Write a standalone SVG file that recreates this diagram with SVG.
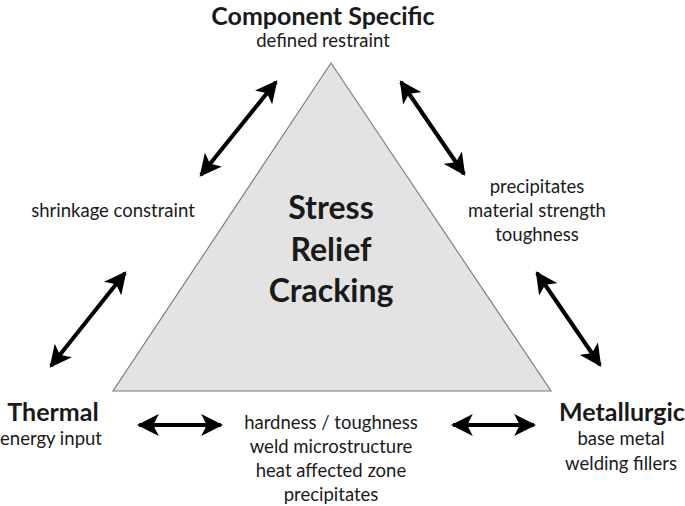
<svg xmlns="http://www.w3.org/2000/svg" width="685" height="506" viewBox="0 0 685 506">
<style>
text{font-family:Lato,"Open Sans","Liberation Sans",sans-serif;fill:#1a1a1a;text-anchor:middle}
.h{font-weight:bold;font-size:25px}
.s{font-size:18.5px}
.c{font-weight:bold;font-size:32px}
.arr{stroke:#000;stroke-width:4;fill:none;marker-start:url(#ah);marker-end:url(#ah)}
</style>
<defs>
<marker id="ah" viewBox="0 0 10 10" refX="9" refY="5" markerWidth="5.5" markerHeight="5.5" markerUnits="strokeWidth" orient="auto-start-reverse">
<path d="M0,0 L10,5 L0,10 L2.5,5 Z" fill="#000"/>
</marker>
</defs>
<g id="center">
<polygon points="331,63 113,391 551,391" fill="#e3e3e3" stroke="#7f7f7f" stroke-width="1.2"/>
<text class="c" x="331" y="219">Stress</text>
<text class="c" x="331" y="261">Relief</text>
<text class="c" x="331" y="302">Cracking</text>
</g>
<g id="component">
<text class="h" x="323" y="25">Component Specific</text>
<text class="s" x="323" y="47">defined restraint</text>
</g>
<g id="shrinkage">
<text class="s" x="113" y="217">shrinkage constraint</text>
</g>
<g id="precipitates">
<text class="s" x="537" y="193">precipitates</text>
<text class="s" x="537" y="217">material strength</text>
<text class="s" x="537" y="241">toughness</text>
</g>
<g id="thermal">
<text class="h" x="53" y="421">Thermal</text>
<text class="s" x="51" y="445">energy input</text>
</g>
<g id="metallurgic">
<text class="h" x="622" y="421">Metallurgic</text>
<text class="s" x="621" y="445">base metal</text>
<text class="s" x="621" y="470">welding fillers</text>
</g>
<g id="microstructure">
<text class="s" x="331" y="429">hardness / toughness</text>
<text class="s" x="331" y="453">weld microstructure</text>
<text class="s" x="331" y="477">heat affected zone</text>
<text class="s" x="331" y="501">precipitates</text>
</g>
<g id="connectors">
<line class="arr" x1="201" y1="175" x2="276" y2="82"/>
<line class="arr" x1="51" y1="366" x2="125" y2="273"/>
<line class="arr" x1="401" y1="82" x2="464" y2="174"/>
<line class="arr" x1="537" y1="273" x2="600" y2="365"/>
<line class="arr" x1="139" y1="425" x2="221" y2="425"/>
<line class="arr" x1="453" y1="425" x2="534" y2="425"/>
</g>
</svg>
